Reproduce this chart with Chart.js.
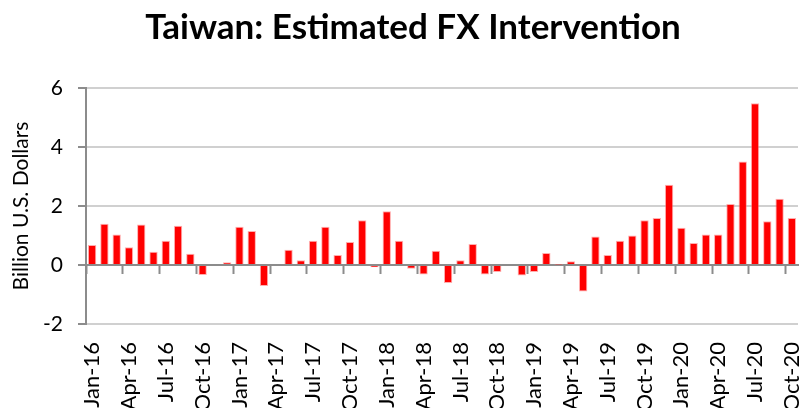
<!DOCTYPE html>
<html>
<head>
<meta charset="utf-8">
<script src="https://cdn.jsdelivr.net/npm/chart.js@4/dist/chart.umd.min.js"></script>
<style>
  html, body { margin: 0; padding: 0; background: #fff; overflow: hidden; }
  #wrap { width: 803px; height: 408px; position: relative; }
</style>
</head>
<body>
<div id="wrap"><canvas id="chart"></canvas></div>
<script>
// categories (monthly, Jan-16 .. Oct-20)
const months = [
  'Jan-16', 'Feb-16', 'Mar-16', 'Apr-16', 'May-16', 'Jun-16', 'Jul-16', 'Aug-16', 'Sep-16', 'Oct-16', 'Nov-16', 'Dec-16',
  'Jan-17', 'Feb-17', 'Mar-17', 'Apr-17', 'May-17', 'Jun-17', 'Jul-17', 'Aug-17', 'Sep-17', 'Oct-17', 'Nov-17', 'Dec-17',
  'Jan-18', 'Feb-18', 'Mar-18', 'Apr-18', 'May-18', 'Jun-18', 'Jul-18', 'Aug-18', 'Sep-18', 'Oct-18', 'Nov-18', 'Dec-18',
  'Jan-19', 'Feb-19', 'Mar-19', 'Apr-19', 'May-19', 'Jun-19', 'Jul-19', 'Aug-19', 'Sep-19', 'Oct-19', 'Nov-19', 'Dec-19',
  'Jan-20', 'Feb-20', 'Mar-20', 'Apr-20', 'May-20', 'Jun-20', 'Jul-20', 'Aug-20', 'Sep-20', 'Oct-20'
]

// estimated intervention, billion USD
const intervention = [
  0.68, 1.40, 1.03, 0.60, 1.37, 0.45, 0.82, 1.33, 0.38, -0.34, 0.00, 0.09,
  1.30, 1.15, -0.71, 0.03, 0.52, 0.16, 0.82, 1.30, 0.34, 0.78, 1.52, -0.08,
  1.82, 0.82, -0.13, -0.32, 0.48, -0.61, 0.16, 0.71, -0.32, -0.24, 0.03, -0.36,
  -0.24, 0.41, 0.01, 0.13, -0.90, 0.97, 0.34, 0.82, 1.00, 1.52, 1.59, 2.72,
  1.26, 0.75, 1.03, 1.03, 2.07, 3.51, 5.48, 1.48, 2.25, 1.59
]

const yTicks = [-2, 0, 2, 4, 6]

const font = 'Lato, "Liberation Sans", sans-serif'
const axisGray = '#8c8c8c'
const gridGray = '#d0d0d0'

/* eslint-disable no-magic-numbers, no-new */
new Chart(document.getElementById('chart'), {
  type: 'bar',
  data: {
    labels: months,
    datasets: [{
      data: intervention,
      backgroundColor: '#ff0000',
      borderColor: 'rgba(255, 120, 120, 0.6)',
      borderWidth: 1,
      barPercentage: 0.68,
      categoryPercentage: 1
    }]
  },
  options: {
    responsive: true,
    maintainAspectRatio: false,
    animation: false,
    layout: { padding: { left: 28, right: 5, top: 0, bottom: 0 } },
    plugins: {
      legend: { display: false },
      tooltip: { enabled: false },
      title: {
        display: true,
        text: 'Taiwan: Estimated FX Intervention',
        color: '#000',
        font: { family: font, size: 35, weight: 'bold', lineHeight: 1.2 },
        padding: { top: 7, bottom: 39 }
      }
    },
    scales: {
      x: {
        position: 'bottom',
        offset: true,
        border: { display: false },
        grid: { display: false, drawTicks: false },
        ticks: {
          autoSkip: false,
          minRotation: 90,
          maxRotation: 90,
          padding: 18,
          color: '#000',
          font: { family: font, size: 22 },
          callback: (val, idx) => (idx % 3 === 0 ? months[idx] : '')
        },
        afterFit: (scale) => {
          scale.height = 84
          scale.paddingLeft = 0
          scale.paddingRight = 0
        }
      },
      // category axis crossing at zero, only for the tick marks
      x0: {
        type: 'category',
        position: { y: 0 },
        offset: true,
        border: { display: true, color: axisGray, width: 2 },
        grid: {
          drawOnChartArea: false,
          drawTicks: true,
          tickLength: 8,
          tickWidth: 2,
          offset: true,
          color: (ctx) => (ctx.index % 3 === 0 ? axisGray : 'rgba(0,0,0,0)')
        },
        ticks: { display: false, autoSkip: false },
        afterFit: (scale) => {
          scale.paddingLeft = 0
          scale.paddingRight = 0
        }
      },
      y: {
        min: -2,
        max: 6,
        afterBuildTicks: (scale) => {
          scale.ticks = yTicks.map((v) => ({ value: v }))
        },
        border: { display: true, color: axisGray, width: 2 },
        grid: {
          color: gridGray,
          lineWidth: 2,
          tickLength: 8,
          tickColor: axisGray
        },
        ticks: {
          padding: 15,
          color: '#000',
          font: { family: font, size: 21 }
        },
        title: {
          display: true,
          text: 'Billion U.S. Dollars',
          color: '#000',
          font: { family: font, size: 21, lineHeight: 1.2 },
          padding: { top: -19, bottom: 0 }
        },
        afterFit: (scale) => { scale.width = 58 }
      }
    }
  }
})
/* eslint-enable no-magic-numbers, no-new */
</script>
</body>
</html>
